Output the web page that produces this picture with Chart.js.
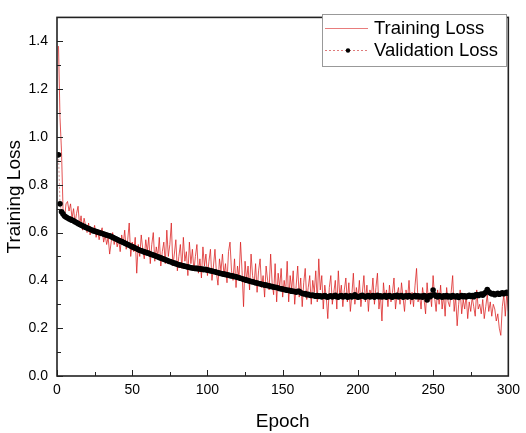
<!DOCTYPE html>
<html>
<head>
<meta charset="utf-8">
<script src="https://cdn.jsdelivr.net/npm/chart.js@4.4.1/dist/chart.umd.min.js"></script>
<style>
  body { margin: 0; background: #fff; }
  #wrap { width: 526px; height: 433px; }
</style>
</head>
<body>
<div id="wrap"><canvas id="lossChart"></canvas></div>
<script>
const epochs = Array.from({ length: 300 }, (_, i) => i + 1);

const trainingLoss = [
  1.38, 1.08, 0.94, 0.70, 0.66, 0.72, 0.73, 0.69, 0.72, 0.66,
  0.70, 0.64, 0.68, 0.71, 0.63, 0.67, 0.61, 0.66, 0.63, 0.60,
  0.64, 0.59, 0.62, 0.60, 0.63, 0.58, 0.61, 0.57, 0.60, 0.62,
  0.56, 0.59, 0.55, 0.58, 0.51, 0.56, 0.60, 0.55, 0.58, 0.54,
  0.57, 0.52, 0.59, 0.55, 0.61, 0.53, 0.57, 0.64, 0.50, 0.56,
  0.52, 0.58, 0.43, 0.55, 0.50, 0.59, 0.53, 0.49, 0.57, 0.52,
  0.58, 0.47, 0.55, 0.60, 0.48, 0.54, 0.50, 0.58, 0.46, 0.52,
  0.56, 0.47, 0.61, 0.50, 0.55, 0.64, 0.46, 0.51, 0.57, 0.44,
  0.50, 0.55, 0.45, 0.58, 0.48, 0.52, 0.42, 0.56, 0.47, 0.53,
  0.44, 0.50, 0.55, 0.43, 0.49, 0.41, 0.54, 0.46, 0.51, 0.42,
  0.48, 0.53, 0.40, 0.46, 0.53, 0.43, 0.38, 0.49, 0.44, 0.51,
  0.42, 0.47, 0.39, 0.52, 0.56, 0.44, 0.40, 0.49, 0.37, 0.46,
  0.41, 0.56, 0.44, 0.29, 0.48, 0.40, 0.46, 0.36, 0.51, 0.42,
  0.38, 0.47, 0.35, 0.44, 0.49, 0.37, 0.42, 0.33, 0.46, 0.40,
  0.36, 0.51, 0.39, 0.34, 0.47, 0.31, 0.43, 0.37, 0.45, 0.33,
  0.40, 0.35, 0.48, 0.31, 0.42, 0.36, 0.44, 0.30, 0.38, 0.46,
  0.33, 0.41, 0.29, 0.39, 0.45, 0.32, 0.37, 0.42, 0.30, 0.40,
  0.35, 0.44, 0.31, 0.49, 0.36, 0.42, 0.28, 0.38, 0.33, 0.24,
  0.37, 0.42, 0.30, 0.35, 0.40, 0.28, 0.44, 0.33, 0.38, 0.29,
  0.36, 0.41, 0.31, 0.39, 0.27, 0.34, 0.43, 0.30, 0.37, 0.32,
  0.40, 0.29, 0.35, 0.42, 0.31, 0.38, 0.27, 0.36, 0.33, 0.41,
  0.30, 0.37, 0.43, 0.28, 0.34, 0.23, 0.39, 0.32, 0.36, 0.29,
  0.38, 0.31, 0.35, 0.41, 0.28, 0.34, 0.37, 0.30, 0.39, 0.33,
  0.27, 0.36, 0.32, 0.40, 0.30, 0.35, 0.29, 0.38, 0.45, 0.31,
  0.34, 0.28, 0.37, 0.32, 0.26, 0.39, 0.31, 0.35, 0.29, 0.42,
  0.33, 0.27, 0.36, 0.30, 0.38, 0.28, 0.34, 0.25, 0.37, 0.31,
  0.29, 0.35, 0.42, 0.27, 0.33, 0.21, 0.30, 0.36, 0.26, 0.32,
  0.28, 0.34, 0.24, 0.31, 0.27, 0.33, 0.29, 0.25, 0.36, 0.28,
  0.30, 0.26, 0.32, 0.24, 0.29, 0.34, 0.27, 0.31, 0.25, 0.30,
  0.28, 0.23, 0.26, 0.20, 0.17, 0.29, 0.34, 0.25, 0.35, 0.27
];

const validationLoss = [
  0.925, 0.720, 0.687, 0.678, 0.669, 0.665, 0.661, 0.658, 0.655, 0.652,
  0.649, 0.645, 0.642, 0.638, 0.635, 0.631, 0.628, 0.625, 0.622, 0.619,
  0.617, 0.614, 0.611, 0.608, 0.606, 0.604, 0.602, 0.600, 0.598, 0.596,
  0.594, 0.592, 0.590, 0.588, 0.586, 0.583, 0.580, 0.577, 0.574, 0.571,
  0.568, 0.565, 0.562, 0.559, 0.556, 0.553, 0.550, 0.547, 0.544, 0.541,
  0.538, 0.535, 0.532, 0.529, 0.526, 0.524, 0.522, 0.519, 0.517, 0.515,
  0.513, 0.510, 0.508, 0.506, 0.504, 0.501, 0.499, 0.496, 0.494, 0.491,
  0.489, 0.486, 0.484, 0.481, 0.479, 0.477, 0.474, 0.472, 0.470, 0.467,
  0.465, 0.464, 0.462, 0.461, 0.459, 0.458, 0.456, 0.455, 0.453, 0.452,
  0.451, 0.450, 0.450, 0.449, 0.448, 0.447, 0.446, 0.446, 0.445, 0.443,
  0.442, 0.440, 0.439, 0.437, 0.436, 0.434, 0.432, 0.431, 0.429, 0.428,
  0.426, 0.425, 0.423, 0.422, 0.420, 0.419, 0.418, 0.416, 0.415, 0.413,
  0.411, 0.409, 0.407, 0.405, 0.403, 0.401, 0.399, 0.397, 0.395, 0.394,
  0.392, 0.390, 0.389, 0.387, 0.386, 0.384, 0.383, 0.381, 0.380, 0.378,
  0.377, 0.375, 0.374, 0.372, 0.371, 0.370, 0.368, 0.366, 0.365, 0.364,
  0.362, 0.361, 0.359, 0.358, 0.357, 0.355, 0.354, 0.353, 0.351, 0.354,
  0.354, 0.348, 0.346, 0.343, 0.345, 0.340, 0.342, 0.338, 0.337, 0.339,
  0.336, 0.334, 0.337, 0.333, 0.335, 0.331, 0.334, 0.336, 0.332, 0.330,
  0.333, 0.335, 0.331, 0.334, 0.338, 0.332, 0.330, 0.334, 0.336, 0.331,
  0.333, 0.337, 0.330, 0.332, 0.335, 0.331, 0.334, 0.340, 0.333, 0.330,
  0.332, 0.335, 0.338, 0.333, 0.330, 0.334, 0.337, 0.331, 0.333, 0.336,
  0.330, 0.334, 0.338, 0.332, 0.335, 0.331, 0.333, 0.336, 0.330, 0.334,
  0.337, 0.332, 0.330, 0.335, 0.333, 0.338, 0.331, 0.334, 0.336, 0.330,
  0.333, 0.335, 0.331, 0.337, 0.333, 0.330, 0.334, 0.336, 0.332, 0.335,
  0.331, 0.334, 0.330, 0.336, 0.333, 0.318, 0.335, 0.332, 0.338, 0.360,
  0.340, 0.334, 0.331, 0.336, 0.333, 0.330, 0.335, 0.332, 0.337, 0.331,
  0.334, 0.330, 0.336, 0.333, 0.331, 0.335, 0.329, 0.333, 0.337, 0.332,
  0.335, 0.331, 0.334, 0.338, 0.333, 0.336, 0.332, 0.339, 0.341, 0.337,
  0.340, 0.343, 0.338, 0.345, 0.350, 0.362, 0.352, 0.347, 0.343, 0.345,
  0.340, 0.343, 0.346, 0.342, 0.345, 0.348, 0.344, 0.347, 0.350, 0.346
];

const xTicks = [0, 50, 100, 150, 200, 250, 300];
const yTicks = [0.0, 0.2, 0.4, 0.6, 0.8, 1.0, 1.2, 1.4];

const FONT = "'Liberation Sans', Arial, sans-serif";

// box round the plot, with inward major and minor ticks
const frame = {
  id: 'frame',
  afterDraw(chart) {
    const { ctx, chartArea: a, scales } = chart;
    ctx.save();
    ctx.strokeStyle = '#222';
    ctx.lineWidth = 1;
    const mark = (scale, v, len) => {
      const p = Math.round(scale.getPixelForValue(v)) + 0.5;
      ctx.beginPath();
      if (scale.axis === 'x') { ctx.moveTo(p, a.bottom); ctx.lineTo(p, a.bottom - len); }
      else { ctx.moveTo(a.left, p); ctx.lineTo(a.left + len, p); }
      ctx.stroke();
    };
    [scales.x, scales.y].forEach(s => {
      const vals = s.ticks.map(t => t.value);
      vals.forEach((v, i) => {
        mark(s, v, 6);
        if (i < vals.length - 1) mark(s, (v + vals[i + 1]) / 2, 4);
      });
      if (s.axis === 'y') mark(s, vals[vals.length - 1] + (vals[1] - vals[0]) / 2, 4);
    });
    ctx.lineWidth = 1.6;
    ctx.strokeRect(a.left, a.top, a.right - a.left, a.bottom - a.top);
    ctx.restore();
  }
};

const boxLegend = {
  id: 'boxLegend',
  afterDraw(chart) {
    const ctx = chart.ctx;
    const x0 = 322, y0 = 14, w = 184, h = 52;
    ctx.save();
    ctx.fillStyle = '#fff';
    ctx.fillRect(x0, y0, w, h);
    ctx.strokeStyle = '#999';
    ctx.lineWidth = 1;
    ctx.strokeRect(x0 + 0.5, y0 + 0.5, w, h);
    chart.data.datasets.forEach((ds, i) => {
      const y = y0 + 14 + i * 22;
      ctx.strokeStyle = ds.legendColor;
      ctx.lineWidth = 1;
      ctx.setLineDash(ds.borderDash || []);
      ctx.beginPath();
      ctx.moveTo(x0 + 3, y + 0.5);
      ctx.lineTo(x0 + 46, y + 0.5);
      ctx.stroke();
      ctx.setLineDash([]);
      if (ds.pointRadius) {
        ctx.fillStyle = ds.pointBackgroundColor;
        ctx.beginPath();
        ctx.arc(x0 + 26, y + 0.5, 2.2, 0, Math.PI * 2);
        ctx.fill();
      }
      ctx.fillStyle = '#000';
      ctx.font = '18.5px ' + FONT;
      ctx.textBaseline = 'middle';
      ctx.fillText(ds.label, x0 + 52, y + 1);
    });
    ctx.restore();
  }
};

document.addEventListener('DOMContentLoaded', function () {
  const ctx = document.getElementById('lossChart').getContext('2d');
  new Chart(ctx, {
    type: 'line',
    data: {
      datasets: [{
        label: 'Training Loss',
        data: epochs.map((e, i) => ({ x: e, y: trainingLoss[i] })),
        borderColor: 'rgba(218, 30, 30, 0.85)',
        legendColor: 'rgba(230, 110, 110, 0.9)',
        borderWidth: 0.9,
        pointRadius: 0,
        tension: 0,
        order: 2
      }, {
        label: 'Validation Loss',
        data: epochs.map((e, i) => ({ x: e, y: validationLoss[i] })),
        borderColor: 'rgba(190, 90, 90, 0.8)',
        legendColor: 'rgba(220, 110, 110, 0.9)',
        borderWidth: 0.8,
        borderDash: [2, 2],
        pointRadius: 2.8,
        pointBackgroundColor: '#000',
        pointBorderWidth: 0,
        tension: 0,
        order: 1
      }]
    },
    options: {
      responsive: true,
      maintainAspectRatio: false,
      animation: false,
      layout: { padding: { top: 6, right: 11, left: 0, bottom: 0 } },
      plugins: { legend: { display: false }, tooltip: { enabled: false } },
      scales: {
        x: {
          type: 'linear',
          min: 0,
          max: 300,
          afterBuildTicks: s => { s.ticks = xTicks.map(v => ({ value: v })); },
          afterFit: s => { s.height = 57; },
          grid: { display: false, drawTicks: false },
          border: { display: false },
          ticks: { color: '#000', padding: 6, maxRotation: 0, font: { family: FONT, size: 14 } },
          title: { display: true, text: 'Epoch', color: '#000', padding: { top: 4, bottom: 0 }, font: { family: FONT, size: 19 } }
        },
        y: {
          min: 0,
          max: 1.5,
          afterBuildTicks: s => { s.ticks = yTicks.map(v => ({ value: v })); },
          afterFit: s => { s.width = 57; },
          grid: { display: false, drawTicks: false },
          border: { display: false },
          ticks: { color: '#000', padding: 9, font: { family: FONT, size: 14 }, callback: v => v.toFixed(1) },
          title: { display: true, text: 'Training Loss', color: '#000', padding: { top: 3, bottom: 0 }, font: { family: FONT, size: 19 } }
        }
      }
    },
    plugins: [frame, boxLegend]
  });
});
</script>
</body>
</html>
